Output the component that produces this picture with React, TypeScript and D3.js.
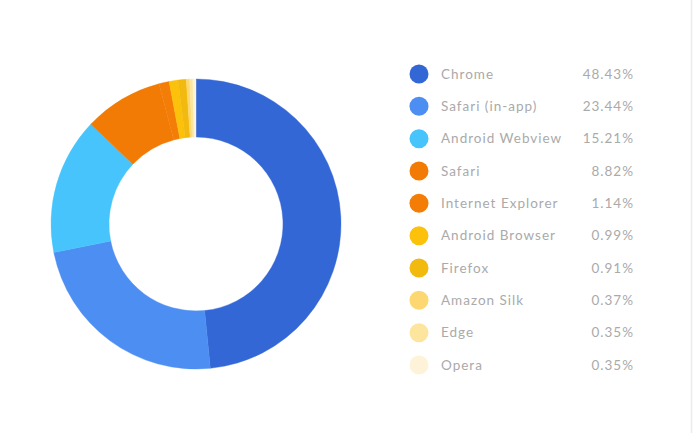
import React from "react";
import * as d3 from "d3";

const categories = ["Chrome", "Safari (in-app)", "Android Webview", "Safari", "Internet Explorer", "Android Browser", "Firefox", "Amazon Silk", "Edge", "Opera"];
const values = [48.43, 23.44, 15.21, 8.82, 1.14, 0.99, 0.91, 0.37, 0.35, 0.35];
const colors = ["#3367d6", "#4d8ef2", "#47c4fc", "#f27b05", "#f37d06", "#fcc10a", "#f2b90e", "#fdd872", "#fde59e", "#fef3d8"];

const W = 693;
const H = 433;

export default function App() {
  const cx = 196;
  const cy = 224;
  const outerR = 145;
  const innerR = 87;
  const pie = d3.pie<number>().value((d) => d).sort(null);
  const arcs = pie(values);
  const arc = d3.arc<d3.PieArcDatum<number>>().innerRadius(innerR).outerRadius(outerR);
  const rowY = d3.scalePoint<string>().domain(categories).range([74, 365]);
  const font = "Lato, 'Open Sans', sans-serif";
  return (
    <svg width={W} height={H} style={{ position: "absolute", left: 0, top: 0, background: "#fff" }}>
      <rect x={0} y={0} width={W} height={H} fill="#fff" />
      <line x1={691.5} x2={691.5} y1={0} y2={H} stroke="#ececec" strokeWidth={1.5} />
      <g transform={`translate(${cx},${cy})`}>
        {arcs.map((a, i) => (
          <path key={i} d={arc(a) || ""} fill={colors[i]} stroke={colors[i]} strokeWidth={0.4} />
        ))}
      </g>
      <g>
        {categories.map((c, i) => (
          <g key={c} transform={`translate(0,${rowY(c)})`}>
            <circle cx={419} cy={0} r={9.5} fill={colors[i]} />
            <text x={441} y={0} dy="0.35em" fontSize={13.5} letterSpacing={1} fill="#aaaaaa" fontFamily={font}>{c}</text>
            <text x={634} y={0} dy="0.35em" fontSize={13.5} letterSpacing={1} fill="#aaaaaa" fontFamily={font} textAnchor="end">{values[i].toFixed(2)}%</text>
          </g>
        ))}
      </g>
    </svg>
  );
}
